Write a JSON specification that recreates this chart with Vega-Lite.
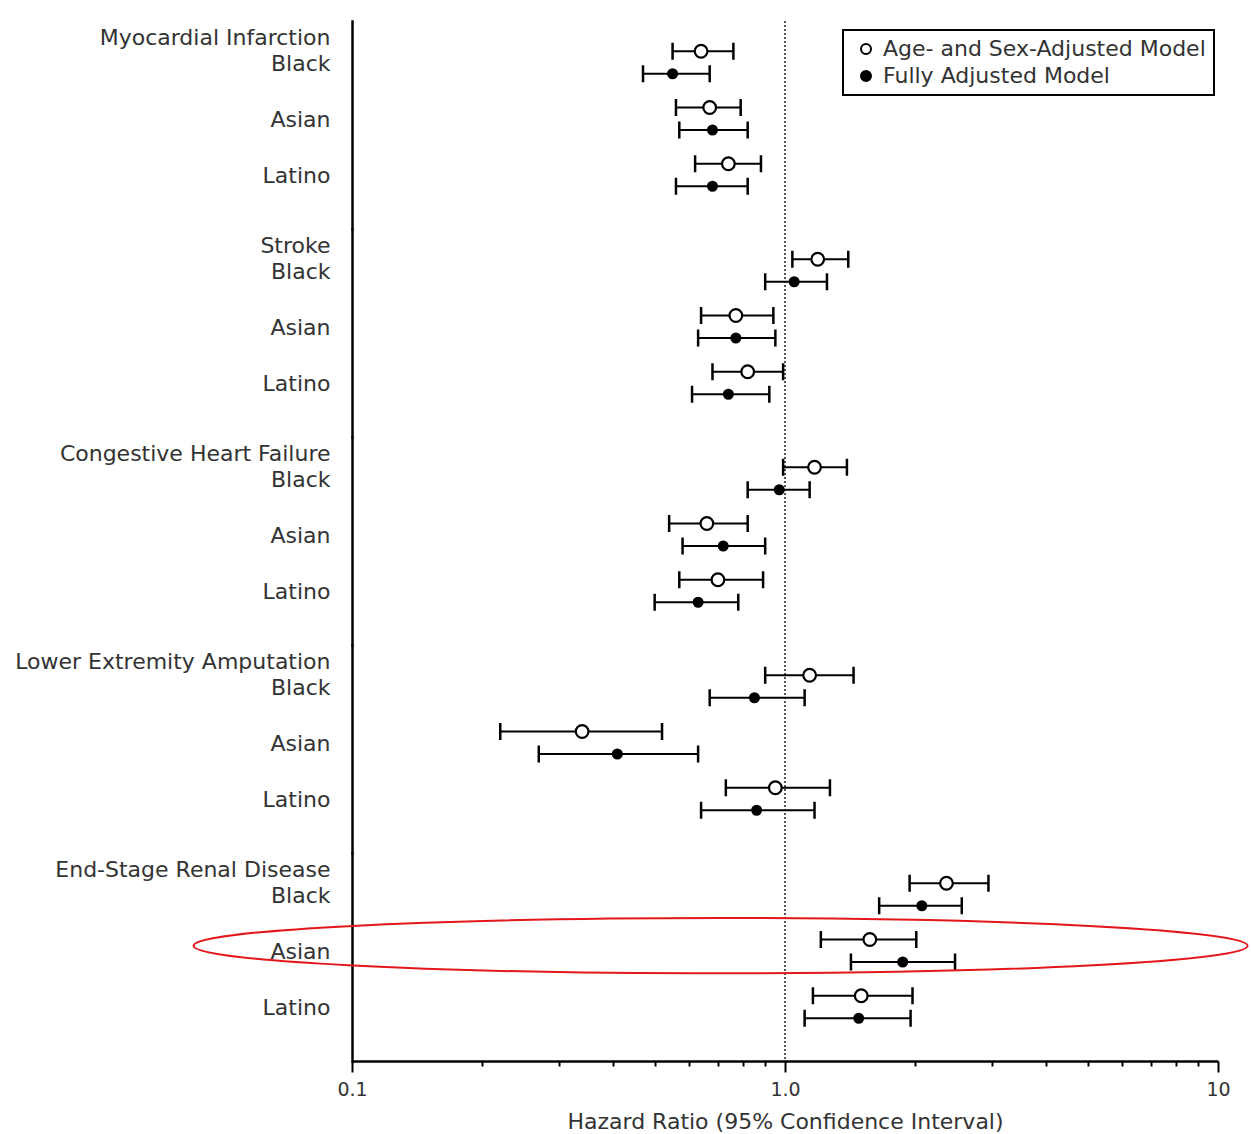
{
  "$schema": "https://vega.github.io/schema/vega-lite/v6.json",
  "background": "white",
  "padding": {"left": 14, "top": 20, "right": 0, "bottom": 0},
  "data": {
    "values": [
      {"outcome": "Myocardial Infarction", "subgroup": "Black", "model": "Age- and Sex-Adjusted Model", "hr": 0.64, "lo": 0.55, "hi": 0.76},
      {"outcome": "Myocardial Infarction", "subgroup": "Black", "model": "Fully Adjusted Model", "hr": 0.55, "lo": 0.47, "hi": 0.67},
      {"outcome": "Myocardial Infarction", "subgroup": "Asian", "model": "Age- and Sex-Adjusted Model", "hr": 0.67, "lo": 0.56, "hi": 0.79},
      {"outcome": "Myocardial Infarction", "subgroup": "Asian", "model": "Fully Adjusted Model", "hr": 0.68, "lo": 0.57, "hi": 0.82},
      {"outcome": "Myocardial Infarction", "subgroup": "Latino", "model": "Age- and Sex-Adjusted Model", "hr": 0.74, "lo": 0.62, "hi": 0.88},
      {"outcome": "Myocardial Infarction", "subgroup": "Latino", "model": "Fully Adjusted Model", "hr": 0.68, "lo": 0.56, "hi": 0.82},
      {"outcome": "Stroke", "subgroup": "Black", "model": "Age- and Sex-Adjusted Model", "hr": 1.19, "lo": 1.04, "hi": 1.40},
      {"outcome": "Stroke", "subgroup": "Black", "model": "Fully Adjusted Model", "hr": 1.05, "lo": 0.90, "hi": 1.25},
      {"outcome": "Stroke", "subgroup": "Asian", "model": "Age- and Sex-Adjusted Model", "hr": 0.77, "lo": 0.64, "hi": 0.94},
      {"outcome": "Stroke", "subgroup": "Asian", "model": "Fully Adjusted Model", "hr": 0.77, "lo": 0.63, "hi": 0.95},
      {"outcome": "Stroke", "subgroup": "Latino", "model": "Age- and Sex-Adjusted Model", "hr": 0.82, "lo": 0.68, "hi": 0.99},
      {"outcome": "Stroke", "subgroup": "Latino", "model": "Fully Adjusted Model", "hr": 0.74, "lo": 0.61, "hi": 0.92},
      {"outcome": "Congestive Heart Failure", "subgroup": "Black", "model": "Age- and Sex-Adjusted Model", "hr": 1.17, "lo": 0.99, "hi": 1.39},
      {"outcome": "Congestive Heart Failure", "subgroup": "Black", "model": "Fully Adjusted Model", "hr": 0.97, "lo": 0.82, "hi": 1.14},
      {"outcome": "Congestive Heart Failure", "subgroup": "Asian", "model": "Age- and Sex-Adjusted Model", "hr": 0.66, "lo": 0.54, "hi": 0.82},
      {"outcome": "Congestive Heart Failure", "subgroup": "Asian", "model": "Fully Adjusted Model", "hr": 0.72, "lo": 0.58, "hi": 0.90},
      {"outcome": "Congestive Heart Failure", "subgroup": "Latino", "model": "Age- and Sex-Adjusted Model", "hr": 0.70, "lo": 0.57, "hi": 0.89},
      {"outcome": "Congestive Heart Failure", "subgroup": "Latino", "model": "Fully Adjusted Model", "hr": 0.63, "lo": 0.50, "hi": 0.78},
      {"outcome": "Lower Extremity Amputation", "subgroup": "Black", "model": "Age- and Sex-Adjusted Model", "hr": 1.14, "lo": 0.90, "hi": 1.44},
      {"outcome": "Lower Extremity Amputation", "subgroup": "Black", "model": "Fully Adjusted Model", "hr": 0.85, "lo": 0.67, "hi": 1.11},
      {"outcome": "Lower Extremity Amputation", "subgroup": "Asian", "model": "Age- and Sex-Adjusted Model", "hr": 0.34, "lo": 0.22, "hi": 0.52},
      {"outcome": "Lower Extremity Amputation", "subgroup": "Asian", "model": "Fully Adjusted Model", "hr": 0.41, "lo": 0.27, "hi": 0.63},
      {"outcome": "Lower Extremity Amputation", "subgroup": "Latino", "model": "Age- and Sex-Adjusted Model", "hr": 0.95, "lo": 0.73, "hi": 1.27},
      {"outcome": "Lower Extremity Amputation", "subgroup": "Latino", "model": "Fully Adjusted Model", "hr": 0.86, "lo": 0.64, "hi": 1.17},
      {"outcome": "End-Stage Renal Disease", "subgroup": "Black", "model": "Age- and Sex-Adjusted Model", "hr": 2.36, "lo": 1.94, "hi": 2.95},
      {"outcome": "End-Stage Renal Disease", "subgroup": "Black", "model": "Fully Adjusted Model", "hr": 2.07, "lo": 1.65, "hi": 2.56},
      {"outcome": "End-Stage Renal Disease", "subgroup": "Asian", "model": "Age- and Sex-Adjusted Model", "hr": 1.57, "lo": 1.21, "hi": 2.01},
      {"outcome": "End-Stage Renal Disease", "subgroup": "Asian", "model": "Fully Adjusted Model", "hr": 1.87, "lo": 1.42, "hi": 2.47},
      {"outcome": "End-Stage Renal Disease", "subgroup": "Latino", "model": "Age- and Sex-Adjusted Model", "hr": 1.50, "lo": 1.16, "hi": 1.97},
      {"outcome": "End-Stage Renal Disease", "subgroup": "Latino", "model": "Fully Adjusted Model", "hr": 1.48, "lo": 1.11, "hi": 1.95}
    ]
  },
  "transform": [{"calculate": "datum.outcome + '|' + datum.subgroup", "as": "key"}],
  "facet": {
    "row": {
      "field": "outcome",
      "type": "nominal",
      "title": null,
      "sort": ["Myocardial Infarction", "Stroke", "Congestive Heart Failure", "Lower Extremity Amputation", "End-Stage Renal Disease"],
      "header": {"labels": false, "title": null}
    }
  },
  "spacing": {"row": 0},
  "bounds": "flush",
  "resolve": {"scale": {"y": "independent"}, "axis": {"y": "independent"}},
  "spec": {
    "width": 866,
    "height": 208,
    "layer": [
      {
        "transform": [{"filter": "datum.subgroup == 'Black' && datum.model == 'Fully Adjusted Model'"}],
        "mark": {"type": "rule", "strokeDash": [2, 2], "color": "#444444", "strokeWidth": 1.8},
        "encoding": {
          "x": {"datum": 1, "type": "quantitative", "title": "Hazard Ratio (95% Confidence Interval)"}
        }
      },
      {
        "transform": [{"filter": "datum.model == 'Age- and Sex-Adjusted Model'"}],
        "mark": {"type": "rule", "color": "black", "strokeWidth": 2},
        "encoding": {
          "x": {"field": "lo", "type": "quantitative", "title": "Hazard Ratio (95% Confidence Interval)",
                "scale": {"type": "log", "domain": [0.1, 10], "nice": false, "zero": false}},
          "x2": {"field": "hi"},
          "y": {"field": "key", "type": "nominal", "sort": null, "bandPosition": 0.3,
                "scale": {"paddingInner": 0, "paddingOuter": 0.349, "align": 0.341},
                "axis": {
                  "title": null,
                  "ticks": false,
                  "tickSize": 0,
                  "domainColor": "black",
                  "domainWidth": 2.5,
                  "domainCap": "square",
                  "labelFont": "DejaVu Sans",
                  "labelFontSize": 22,
                  "labelColor": "#333333",
                  "labelPadding": 22,
                  "labelLimit": 500,
                  "labelOverlap": false,
                  "labelLineHeight": 26,
                  "labelBaseline": "middle",
                  "labelOffset": -25,
                  "labelExpr": "[indexof(datum.value, '|Black') >= 0 ? split(datum.value, '|')[0] : '', split(datum.value, '|')[1]]"
                }}
        }
      },
      {
        "transform": [{"filter": "datum.model == 'Fully Adjusted Model'"}],
        "mark": {"type": "rule", "color": "black", "strokeWidth": 2},
        "encoding": {
          "x": {"field": "lo", "type": "quantitative", "title": "Hazard Ratio (95% Confidence Interval)"},
          "x2": {"field": "hi"},
          "y": {"field": "key", "type": "nominal", "sort": null, "bandPosition": 0.7}
        }
      },
      {
        "transform": [
          {"filter": "datum.model == 'Age- and Sex-Adjusted Model'"},
          {"fold": ["lo", "hi"], "as": ["end", "bound"]}
        ],
        "mark": {"type": "point", "shape": "M0,-1L0,1", "size": 289, "filled": false, "stroke": "black", "strokeWidth": 2.5, "opacity": 1},
        "encoding": {
          "x": {"field": "bound", "type": "quantitative", "title": "Hazard Ratio (95% Confidence Interval)"},
          "y": {"field": "key", "type": "nominal", "sort": null, "bandPosition": 0.3}
        }
      },
      {
        "transform": [
          {"filter": "datum.model == 'Fully Adjusted Model'"},
          {"fold": ["lo", "hi"], "as": ["end", "bound"]}
        ],
        "mark": {"type": "point", "shape": "M0,-1L0,1", "size": 289, "filled": false, "stroke": "black", "strokeWidth": 2.5, "opacity": 1},
        "encoding": {
          "x": {"field": "bound", "type": "quantitative", "title": "Hazard Ratio (95% Confidence Interval)"},
          "y": {"field": "key", "type": "nominal", "sort": null, "bandPosition": 0.7}
        }
      },
      {
        "transform": [{"filter": "datum.model == 'Age- and Sex-Adjusted Model'"}],
        "mark": {"type": "point", "shape": "circle", "filled": true, "stroke": "black", "strokeWidth": 2.2, "size": 160, "opacity": 1},
        "encoding": {
          "x": {"field": "hr", "type": "quantitative", "title": "Hazard Ratio (95% Confidence Interval)"},
          "y": {"field": "key", "type": "nominal", "sort": null, "bandPosition": 0.3},
          "fill": {
            "field": "model",
            "type": "nominal",
            "scale": {"domain": ["Age- and Sex-Adjusted Model", "Fully Adjusted Model"], "range": ["white", "black"]},
            "legend": {
              "title": null,
              "orient": "none",
              "legendX": 491,
              "legendY": 9,
              "padding": 8,
              "rowPadding": 5,
              "symbolOffset": 4,
              "labelOffset": 6,
              "symbolType": "circle",
              "symbolStrokeColor": "black",
              "symbolStrokeWidth": 2,
              "labelFont": "DejaVu Sans",
              "labelFontSize": 22,
              "labelColor": "#333333",
              "labelLimit": 500,
              "encode": {
                "symbols": {"update": {"size": {"signal": "datum.value == 'Fully Adjusted Model' ? 40 : 100"}}}
              }
            }
          }
        }
      },
      {
        "transform": [{"filter": "datum.model == 'Fully Adjusted Model'"}],
        "mark": {"type": "point", "shape": "circle", "filled": true, "stroke": "black", "strokeWidth": 2, "size": 81, "opacity": 1},
        "encoding": {
          "x": {"field": "hr", "type": "quantitative", "title": "Hazard Ratio (95% Confidence Interval)"},
          "y": {"field": "key", "type": "nominal", "sort": null, "bandPosition": 0.7},
          "fill": {"field": "model", "type": "nominal"}
        }
      },
      {
        "transform": [{"filter": "datum.outcome == 'End-Stage Renal Disease' && datum.subgroup == 'Asian' && datum.model == 'Age- and Sex-Adjusted Model'"}],
        "mark": {"type": "point", "shape": "M-1,0A1,0.0525,0,1,0,1,0A1,0.0525,0,1,0,-1,0Z", "size": 1110916, "filled": false, "stroke": "#e3161b", "strokeWidth": 2, "opacity": 1},
        "encoding": {
          "x": {"datum": 0.71, "type": "quantitative", "title": "Hazard Ratio (95% Confidence Interval)"},
          "y": {"field": "key", "type": "nominal", "sort": null, "bandPosition": 0.41}
        }
      }
    ]
  },
  "config": {
    "font": "DejaVu Sans",
    "view": {"stroke": null},
    "legend": {"strokeColor": "black", "strokeWidth": 2, "fillColor": "white"},
    "axisX": {
      "values": [0.1, 0.2, 0.3, 0.4, 0.5, 0.6, 0.7, 0.8, 0.9, 1, 2, 3, 4, 5, 6, 7, 8, 9, 10],
      "labelExpr": "datum.value == 0.1 ? '0.1' : datum.value == 1 ? '1.0' : datum.value == 10 ? '10' : ''",
      "grid": false,
      "domainColor": "black",
      "domainWidth": 2.5,
      "tickColor": "black",
      "tickWidth": 2,
      "tickSize": {"condition": {"test": "datum.value == 0.1 || datum.value == 1 || datum.value == 10", "value": 11}, "value": 5},
      "labelFlush": false,
      "labelOverlap": false,
      "labelFont": "DejaVu Sans",
      "labelFontSize": 19,
      "labelColor": "#333333",
      "labelPadding": 8,
      "titleFont": "DejaVu Sans",
      "titleFontSize": 22,
      "titleFontWeight": "normal",
      "titleColor": "#333333",
      "titlePadding": 12
    }
  }
}
